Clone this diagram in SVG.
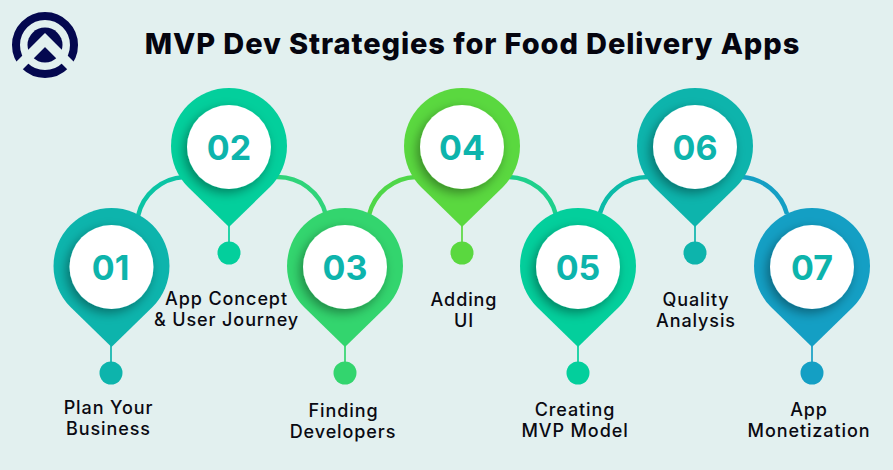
<svg xmlns="http://www.w3.org/2000/svg" width="893" height="470" viewBox="0 0 893 470">
<style>
.t{font-family:"Inter","Liberation Sans",sans-serif;font-weight:500;font-size:18px;fill:#0a0a12;text-anchor:middle;letter-spacing:.9px}
.n{font-family:"Inter","Liberation Sans",sans-serif;font-weight:700;font-size:34px;fill:#0db4ac;text-anchor:middle}
.a{fill:none;stroke-width:4.5}
.s{stroke-width:1.7}
</style>
<defs>
<path id="p" d="M-41 40A58 58 0 1 1 41 40L0 80Z"/>
<clipPath id="c"><use href="#p"/></clipPath>
<filter id="sh" x="-50%" y="-50%" width="200%" height="200%"><feDropShadow dx="-3" dy="4" stdDeviation="5.500" flood-color="#000" flood-opacity=".38"/></filter>
</defs>
<rect width="893" height="470" fill="#e2f0ef"/>
<g id="logo">
<circle cx="45" cy="45" r="29" fill="none" stroke="#04084f" stroke-width="8"/>
<circle cx="45" cy="45" r="17.500" fill="#04084f"/>
<path d="M8 77L45 40L82 77" fill="none" stroke="#e2f0ef" stroke-width="10"/>
</g>
<text x="472.500" y="54" text-anchor="middle" font-family="Inter,'Liberation Sans',sans-serif" font-weight="800" font-size="29" letter-spacing=".9" fill="#05050f">MVP Dev Strategies for Food Delivery Apps</text>
<g id="connectors">
<path class="a" stroke="#0bc4a4" d="M138 216A50 50 0 0 1 184 177"/>
<path class="a" stroke="#2fd47a" d="M276 177A50 50 0 0 1 326 215"/>
<path class="a" stroke="#4fd748" d="M369 215A50 50 0 0 1 416 177"/>
<path class="a" stroke="#1fd08c" d="M509 177A50 50 0 0 1 556 215"/>
<path class="a" stroke="#0bbba8" d="M600 213A50 50 0 0 1 648 177"/>
<path class="a" stroke="#149fc4" d="M742 177A50 50 0 0 1 787 214"/>
<g fill="none" class="s">
<path stroke="#0db4ac" d="M111 340V365"/><path stroke="#03cf9c" d="M229 220V245"/><path stroke="#33d56e" d="M345 340V365"/><path stroke="#5ad83f" d="M462 220V245"/><path stroke="#03cf9c" d="M578 340V365"/><path stroke="#0db4ac" d="M695 220V245"/><path stroke="#149fc4" d="M812 340V365"/>
</g>
</g>
<g id="node1"><g transform="translate(111.500 267)"><use href="#p" fill="#0db4ac"/><g clip-path="url(#c)"><circle r="42" fill="#fff" filter="url(#sh)"/></g><text class="n" y="12.500" x="-1">01</text></g>
<circle cx="111" cy="373" r="11.500" fill="#0db4ac"/>
<text class="t" x="108.500" y="414">Plan Your</text><text class="t" x="108.500" y="435">Business</text></g>
<g id="node2"><g transform="translate(229 147)"><use href="#p" fill="#03cf9c"/><g clip-path="url(#c)"><circle r="42" fill="#fff" filter="url(#sh)"/></g><text class="n" y="12.500">02</text></g>
<circle cx="229" cy="253" r="11.500" fill="#03cf9c"/>
<text class="t" x="226.500" y="305">App Concept</text><text class="t" x="226.500" y="326">&amp; User Journey</text></g>
<g id="node3"><g transform="translate(345 267)"><use href="#p" fill="#33d56e"/><g clip-path="url(#c)"><circle r="42" fill="#fff" filter="url(#sh)"/></g><text class="n" y="12.500">03</text></g>
<circle cx="345" cy="373" r="11.500" fill="#33d56e"/>
<text class="t" x="343.500" y="417">Finding</text><text class="t" x="343" y="438">Developers</text></g>
<g id="node4"><g transform="translate(462 147)"><use href="#p" fill="#5ad83f"/><g clip-path="url(#c)"><circle r="42" fill="#fff" filter="url(#sh)"/></g><text class="n" y="12.500">04</text></g>
<circle cx="462" cy="253" r="11.500" fill="#5ad83f"/>
<text class="t" x="464" y="306">Adding</text><text class="t" x="464" y="327">UI</text></g>
<g id="node5"><g transform="translate(578 267)"><use href="#p" fill="#03cf9c"/><g clip-path="url(#c)"><circle r="42" fill="#fff" filter="url(#sh)"/></g><text class="n" y="12.500">05</text></g>
<circle cx="578" cy="373" r="11.500" fill="#03cf9c"/>
<text class="t" x="575" y="416">Creating</text><text class="t" x="575" y="437">MVP Model</text></g>
<g id="node6"><g transform="translate(695 147)"><use href="#p" fill="#0db4ac"/><g clip-path="url(#c)"><circle r="42" fill="#fff" filter="url(#sh)"/></g><text class="n" y="12.500">06</text></g>
<circle cx="695" cy="253" r="11.500" fill="#0db4ac"/>
<text class="t" x="696" y="306">Quality</text><text class="t" x="696" y="327">Analysis</text></g>
<g id="node7"><g transform="translate(812 267)"><use href="#p" fill="#149fc4"/><g clip-path="url(#c)"><circle r="42" fill="#fff" filter="url(#sh)"/></g><text class="n" y="12.500">07</text></g>
<circle cx="812" cy="373" r="11.500" fill="#149fc4"/>
<text class="t" x="809" y="416">App</text><text class="t" x="809" y="437">Monetization</text></g>
</svg>
